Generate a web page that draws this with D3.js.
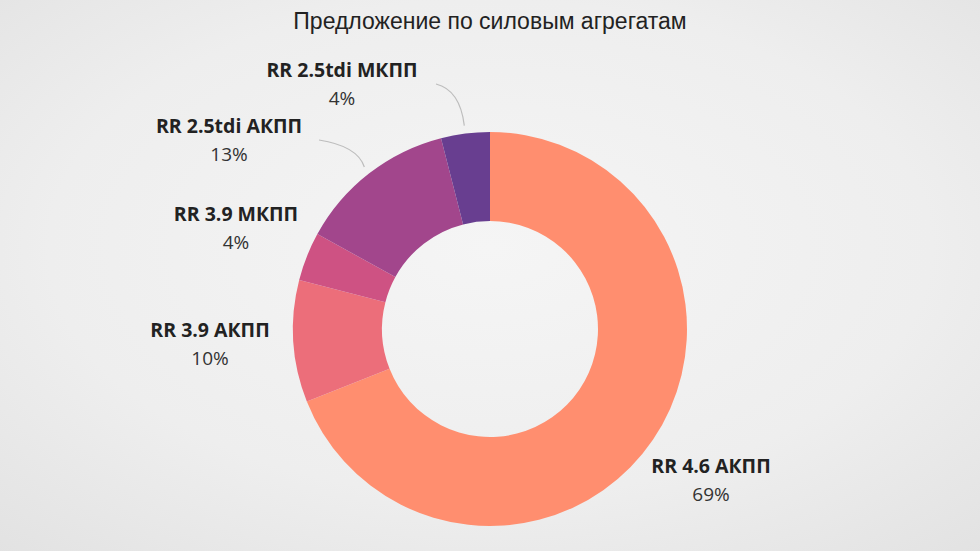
<!DOCTYPE html>
<html><head><meta charset="utf-8">
<script src="https://cdn.jsdelivr.net/npm/d3@7"></script>
<style>
html,body{margin:0;padding:0;}
body{width:980px;height:551px;overflow:hidden;}
</style></head>
<body><svg id="c" width="980" height="551"></svg>
<script>
const title = "Предложение по силовым агрегатам";
const categories = ["RR 4.6 АКПП", "RR 3.9 АКПП", "RR 3.9 МКПП", "RR 2.5tdi АКПП", "RR 2.5tdi МКПП"];
const values = [69, 10, 4, 13, 4];
const colors = ["#FF8E6F", "#EC6E7A", "#CE5283", "#A2468C", "#683E90"];

// layout (label name baselines, relative to the donut centre) and leader lines
const labelOffsets = [[221, 144], [-280, 8], [-254, -108], [-261, -196], [-148, -252]];
const hasLeader = [false, false, false, true, true];
const leaderStart = [null, null, null, [-171, -189], [-54, -245]];

const W = 980, H = 551, cx = 490, cy = 329, R = 197, r = 108;
const svg = d3.select("#c");
const defs = svg.append("defs");
const g0 = defs.append("radialGradient").attr("id","bg").attr("cx","50%").attr("cy","45%").attr("r","75%");
g0.append("stop").attr("offset","0%").attr("stop-color","#f5f5f5");
g0.append("stop").attr("offset","60%").attr("stop-color","#eeeeee");
g0.append("stop").attr("offset","100%").attr("stop-color","#e2e2e2");
svg.append("rect").attr("width",W).attr("height",H).attr("fill","url(#bg)");

svg.append("text").attr("x", cx).attr("y", 29).attr("text-anchor","middle")
  .attr("font-family","'Liberation Sans', Arial, sans-serif").attr("font-size", 23)
  .attr("fill","#222").text(title);

const data = categories.map((c,i)=>({name:c, value:values[i], color:colors[i], i}));
const pie = d3.pie().value(d=>d.value).sort(null);
const arcs = pie(data);
const arc = d3.arc().innerRadius(r).outerRadius(R);
const g = svg.append("g").attr("transform",`translate(${cx},${cy})`);
g.selectAll("path.s").data(arcs).join("path").attr("class","s")
  .attr("d", arc).attr("fill", d=>d.data.color);

const edgeArc = d3.arc().innerRadius(205).outerRadius(205);
arcs.forEach((a,i)=>{
  if(!hasLeader[i]) return;
  const [ex, ey] = edgeArc.centroid(a);
  const [sx, sy] = leaderStart[i];
  const p = d3.path();
  p.moveTo(sx, sy);
  p.quadraticCurveTo(ex + (sx-ex)*0.15, sy + 6, ex, ey);
  g.append("path").attr("d", p.toString()).attr("fill","none")
    .attr("stroke","#bdbdbd").attr("stroke-width",1.2);
});

const lab = g.selectAll("g.l").data(arcs).join("g").attr("class","l")
  .attr("transform",(d,i)=>`translate(${labelOffsets[i][0]},${labelOffsets[i][1]})`);
lab.append("text").attr("text-anchor","middle").attr("y",0)
  .attr("font-family","'Open Sans', sans-serif").attr("font-weight",700).attr("font-size",19.5)
  .attr("fill","#222").text(d=>d.data.name);
lab.append("text").attr("text-anchor","middle").attr("y",28)
  .attr("font-family","'Open Sans', sans-serif").attr("font-weight",400).attr("font-size",19)
  .attr("fill","#333").text(d=>d.data.value + "%");
</script></body></html>
